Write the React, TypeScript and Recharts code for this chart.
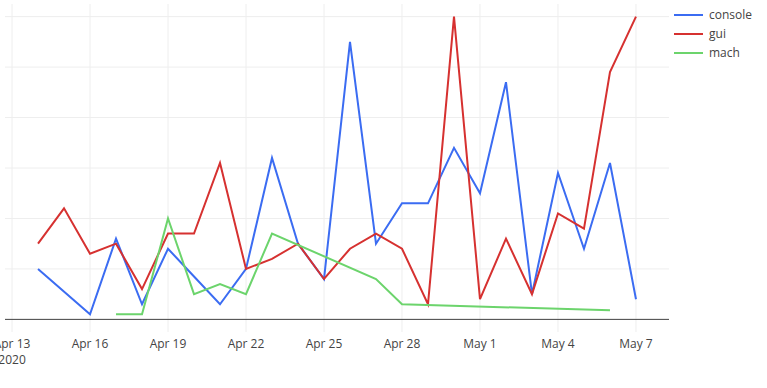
import React from "react";
import {
  LineChart,
  Line,
  XAxis,
  YAxis,
  CartesianGrid,
  ReferenceLine,
} from "recharts";

// day index 0 = Apr 13 2020
const dates = [
  "Apr 14", "Apr 15", "Apr 16", "Apr 17", "Apr 18", "Apr 19", "Apr 20", "Apr 21",
  "Apr 22", "Apr 23", "Apr 24", "Apr 25", "Apr 26", "Apr 27", "Apr 28", "Apr 29",
  "Apr 30", "May 1", "May 2", "May 3", "May 4", "May 5", "May 6", "May 7",
];
const dayIndex = [1, 2, 3, 4, 5, 6, 7, 8, 9, 10, 11, 12, 13, 14, 15, 16, 17, 18, 19, 20, 21, 22, 23, 24];

const consoleVals = [10, null, 1, 16, 3, 14, 8.5, 3, 10, 32, 15, 8, 55, 15, 23, 23, 34, 25, 47, 5, 29, 14, 31, 4];
const guiVals = [15, 22, 13, 15, 6, 17, 17, 31, 10, 12, 15, 8, 14, 17, 14, 3, 60, 4, 16, 5, 21, 18, 49, 60];
const machVals = [null, null, null, 1, 1, 20, 5, 7, 5, 17, null, null, null, 8, 3, null, null, null, null, null, null, null, 1.8, null];

const xTicks = [0, 3, 6, 9, 12, 15, 18, 21, 24];
const xTickLabels = ["Apr 13", "Apr 16", "Apr 19", "Apr 22", "Apr 25", "Apr 28", "May 1", "May 4", "May 7"];
const yTicks = [0, 10, 20, 30, 40, 50, 60];

const series = [
  { key: "console", color: "#3b6cf2" },
  { key: "gui", color: "#d63130" },
  { key: "mach", color: "#6cd46c" },
];

const data = dates.map((d, i) => ({
  date: d,
  day: dayIndex[i],
  console: consoleVals[i],
  gui: guiVals[i],
  mach: machVals[i],
}));

const FONT = '"Open Sans", verdana, arial, sans-serif';

function DateTick(props: any) {
  const { x, payload } = props;
  const idx = xTicks.indexOf(payload.value);
  return (
    <g>
      <text x={x} y={348} textAnchor="middle" fill="#444" fontSize={12} fontFamily={FONT}>
        {xTickLabels[idx]}
      </text>
      {idx === 0 && (
        <text x={x} y={364} textAnchor="middle" fill="#444" fontSize={12} fontFamily={FONT}>
          2020
        </text>
      )}
    </g>
  );
}

function LegendBox() {
  return (
    <div
      style={{
        position: "absolute",
        left: 674,
        top: 5,
        fontFamily: FONT,
        fontSize: 12,
        color: "#444",
      }}
    >
      {series.map((s) => (
        <div key={s.key} style={{ display: "flex", alignItems: "center", height: 19 }}>
          <div style={{ width: 29, height: 2, background: s.color, marginRight: 6 }} />
          <span>{s.key}</span>
        </div>
      ))}
    </div>
  );
}

export default function App() {
  return (
    <div style={{ position: "absolute", left: 0, top: 0, width: 767, height: 388, background: "#fff" }}>
      <LineChart
        width={767}
        height={388}
        data={data}
        margin={{ top: 4, right: 98, bottom: 26, left: 5 }}
      >
        <CartesianGrid
          stroke="#eee"
          strokeWidth={1}
          horizontalValues={yTicks}
          verticalValues={xTicks}
        />
        <XAxis
          dataKey="day"
          type="number"
          domain={[-0.27, 25.27]}
          ticks={xTicks}
          interval={0}
          axisLine={false}
          tickLine={false}
          height={30}
          tick={<DateTick />}
          allowDataOverflow
        />
        <YAxis hide type="number" domain={[-2.5, 62.5]} ticks={yTicks} allowDataOverflow />
        <ReferenceLine y={0} stroke="#444" strokeWidth={1} />
        {series.map((s) => (
          <Line
            key={s.key}
            type="linear"
            dataKey={s.key}
            stroke={s.color}
            strokeWidth={2}
            dot={false}
            activeDot={false}
            connectNulls
            isAnimationActive={false}
          />
        ))}
      </LineChart>
      <LegendBox />
    </div>
  );
}
